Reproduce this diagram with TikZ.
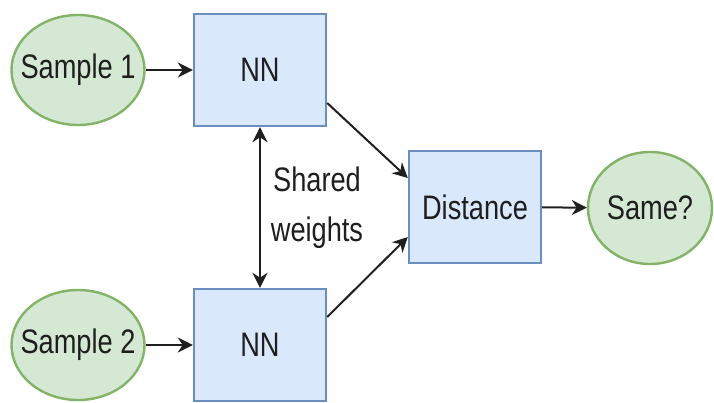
\documentclass[tikz,border=0pt]{standalone}
\usepackage{fontspec}
\setmainfont[FakeStretch=0.8]{Liberation Sans}
\usetikzlibrary{shapes.geometric,arrows.meta}
\definecolor{boxfill}{HTML}{DAE8FC}
\definecolor{boxline}{HTML}{6C8EBF}
\definecolor{ellfill}{HTML}{D5E8D4}
\definecolor{ellline}{HTML}{82B366}
\definecolor{txt}{HTML}{1E1E1E}
\newcommand{\zw}[1]{\makebox[0pt][c]{#1}}
\tikzset{
  nnbox/.style={draw=boxline, fill=boxfill, line width=2.4pt, minimum width=132pt, minimum height=112pt, inner sep=0pt, text=txt, font=\fontsize{34}{40}\selectfont},
  sampleell/.style={ellipse, draw=ellline, fill=ellfill, line width=2.4pt, inner sep=0pt, text=txt, font=\fontsize{34}{40}\selectfont},
  tipstyle/.style={Stealth[length=15pt,width=15pt]},
  conn/.style={line width=2pt, draw=black!88, -{Stealth[length=15pt,width=15pt]}},
}
\begin{document}
\begin{tikzpicture}[x=1pt,y=1pt]
\useasboundingbox[fill=white] (0,0) rectangle (714,-403);
\node[sampleell, minimum width=133pt, minimum height=110pt] (s1) at (78,-70) {\zw{Sample 1}};
\node[sampleell, minimum width=133pt, minimum height=110pt] (s2) at (78,-345) {\zw{Sample 2}};
\node[nnbox] (nn1) at (260,-70) {NN};
\node[nnbox] (nn2) at (260,-345) {NN};
\node[nnbox] (dist) at (475,-207) {Distance};
\node[sampleell, minimum width=124pt, minimum height=112pt] (same) at (650,-208) {\zw{Same?}};
\node[text=txt, align=center, font=\fontsize{34}{50}\selectfont] (lbl) at (317,-208) {Shared\\weights};
\draw[conn] (s1) -- (nn1);
\draw[conn] (s2) -- (nn2);
\draw[conn] (dist) -- (same);
\draw[line width=2pt, draw=black!88, {Stealth[length=15pt,width=15pt]}-{Stealth[length=15pt,width=15pt]}] (nn1) -- (nn2);
\draw[conn] ([yshift=-33pt]nn1.east) -- ([yshift=29pt]dist.west);
\draw[conn] ([yshift=28pt]nn2.east) -- ([yshift=-30pt]dist.west);
\end{tikzpicture}
\end{document}
